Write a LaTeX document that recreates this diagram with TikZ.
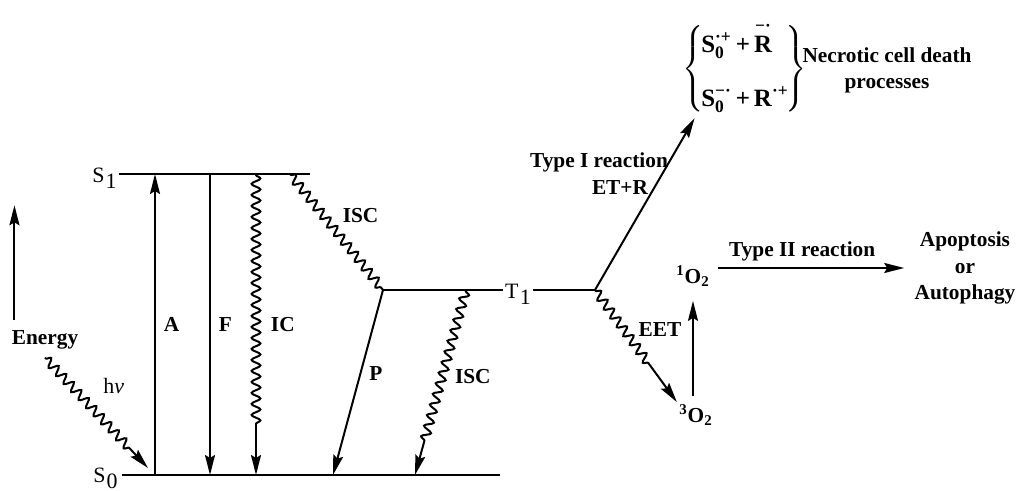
\documentclass[tikz,border=0pt]{standalone}
\usepackage{amsmath}
\usepackage{fontspec}
\setmainfont{Liberation Serif}
\usetikzlibrary{arrows.meta,decorations.pathmorphing}

\newcommand{\lowsub}[2]{#1\kern0.6pt\raisebox{-0.6ex}{#2}}

\begin{document}
\begin{tikzpicture}[
  x=0.5bp, y=-0.5bp,
  lvl/.style={line width=1pt},
  trans/.style={line width=1pt, -{Stealth[length=10bp, width=5bp, inset=1.5bp]}},
  wave/.style={decorate, decoration={snake, amplitude=2.2bp, segment length=5.5bp, pre length=0.5bp, post length=#1}},
  wave/.default=0.5bp,
  lab/.style={font=\bfseries\fontsize{10.7}{13.5}\selectfont, inner sep=1pt},
  statelab/.style={font=\fontsize{11}{12}\selectfont, inner sep=1pt}
]
\useasboundingbox (0,0) rectangle (1022,491);

% energy levels
\coordinate (s1R) at (310,174);
\coordinate (s0L) at (122,475);
\coordinate (s0R) at (500,475);
\coordinate (t1L) at (383,290);
\coordinate (t1R) at (595,290);

\node[statelab, anchor=east] (S1) at (119,178) {\lowsub{S}{1}};
\node[statelab, anchor=east] (S0) at (120,478) {\lowsub{S}{0}};
\node[statelab] (T1) at (518,294) {\lowsub{T}{1}};

\draw[lvl] (S1.east |- s1R) -- (s1R);
\draw[lvl] (s0L) -- (s0R);
\draw[lvl] (t1L) -- (T1.west |- t1L);
\draw[lvl] (T1.east |- t1R) -- (t1R);

% transitions
\coordinate (a0) at (155,475);
\coordinate (a1) at (155,174);
\coordinate (f1) at (210,174);
\coordinate (f0) at (210,475);
\coordinate (ic1) at (256,174);
\coordinate (ic0) at (256,475);
\coordinate (isc1) at (290,174);
\coordinate (p0) at (333,475);
\coordinate (isc2) at (466,290);
\coordinate (isc0) at (415,475);

\draw[trans] (a0) -- node[lab, right=3bp] (A) {A} (a1);
\draw[trans] (f1) -- node[lab, right=3bp] (F) {F} (f0);
\draw[trans, wave=25bp] (ic1) -- node[lab, right=6bp] (IC) {IC} (ic0);
\draw[lvl, wave] (isc1) -- node[lab, pos=0.45, anchor=south west, xshift=4bp] (ISCa) {ISC} (t1L);
\draw[trans] (t1L) -- node[lab, pos=0.45, right=3bp] (P) {P} (p0);
\draw[trans, wave=16bp] (isc2) -- node[lab, pos=0.47, right=5bp] (ISCb) {ISC} (isc0);

% energy axis and excitation
\node[lab] (Energy) at (45,340) {Energy};
\draw[trans] ([xshift=2.5bp, yshift=4bp]Energy.north west) -- ++(0,-115);
\draw[trans, wave=12bp] ([yshift=-3bp]Energy.south) -- node[statelab, pos=0.5, anchor=south west, xshift=2bp, yshift=8bp] (hv) {h\itshape ν} ([shift={(-3.5bp,3.5bp)}]a0);

% type I branch
\node[lab, inner sep=0pt, font=\bfseries\fontsize{12.5}{15}\selectfont] (radpair) at (745,69) {$\left\{\kern-1.5pt\begin{array}{@{}l@{}}
\text{S}_{\text{0}}^{\text{·+}}\,\text{+}\,\overset{\text{−·}}{\text{R}}\\[12bp]
\text{S}_{\text{0}}^{\text{−·}}\,\text{+}\,\text{R}^{\text{·+}}
\end{array}\kern-1.5pt\right\}$};
\node[lab, align=center, font=\bfseries\fontsize{10.7}{13}\selectfont] (necro) at (887,70) {Necrotic cell death\\processes};
\node[lab] (typeI) at (599,162) {Type I reaction};
\node[lab] (etr) at (620,188) {ET+R};
\draw[trans] (t1R) -- ([xshift=6bp, yshift=-1bp]radpair.south west);

% type II branch
\node[lab] (O3) at (696,415) {\textsuperscript{3}O\textsubscript{2}};
\node[lab] (O1) at (693,276) {\textsuperscript{1}O\textsubscript{2}};
\node[lab, align=center] (outcome) at (965,268) {Apoptosis\\or\\Autophagy};
\draw[trans, wave=22bp] (t1R) -- node[lab, pos=0.35, anchor=west, xshift=6bp] (EET) {EET} (O3.north west);
\draw[trans] ([yshift=3bp]O1.south |- O3.north) -- ([yshift=-6bp]O1.south);
\draw[trans, shorten <=3bp, shorten >=4bp] (O1.east |- outcome.west) -- node[lab, pos=0.45, above=2bp] (typeII) {Type II reaction} (outcome.west);
\end{tikzpicture}
\end{document}
